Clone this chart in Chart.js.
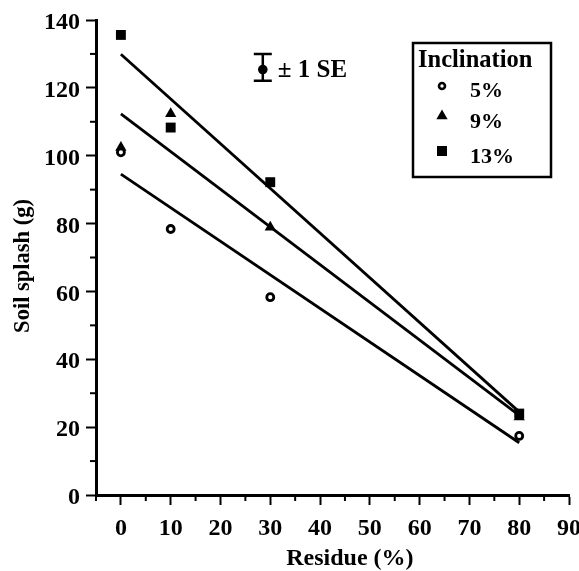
<!DOCTYPE html>
<html><head><meta charset="utf-8">
<script src="https://cdn.jsdelivr.net/npm/chart.js@4"></script>
<style>html,body{margin:0;padding:0;background:#fff}</style>
</head><body>
<canvas id="c" width="579" height="571"></canvas>
<script>
// ---- data ----
const seriesNames = ['5%', '9%', '13%'];
const legendTitle = 'Inclination';
const residue = [0, 10, 30, 80];
const splash5 = [101.0, 78.4, 58.3, 17.4];
const splash9 = [102.4, 112.4, 78.9, 23.0];
const splash13 = [135.6, 108.3, 92.2, 24.0];
const fitX = [0, 80];
const fit5 = [94.6, 15.4];
const fit9 = [112.3, 23.5];
const fit13 = [129.9, 24.5];
const seX = 28.5, seMean = 125.4, seLow = 122.1, seHigh = 130.0;
const seLabel = '± 1 SE';
const xTicks = [0, 10, 20, 30, 40, 50, 60, 70, 80, 90];
const yTicks = [0, 20, 40, 60, 80, 100, 120, 140];
const xMinor = [-5, 5, 15, 25, 35, 45, 55, 65, 75, 85];
const yMinor = [10, 30, 50, 70, 90, 110, 130];
const xTitle = 'Residue (%)';
const yTitle = 'Soil splash (g)';

const FONT = "'Liberation Serif', 'Times New Roman', serif";
const pts = (ys) => residue.map((x, i) => ({x, y: ys[i]}));
const fitPts = (ys) => fitX.map((x, i) => ({x, y: ys[i]}));

const lineDs = (ys) => ({type: 'line', data: fitPts(ys), borderColor: '#000', borderWidth: 2.8,
  pointRadius: 0, fill: false, showLine: true, order: 2});

const minorTicks = {
  id: 'minorTicks',
  afterDraw(chart) {
    const ctx = chart.ctx, xs = chart.scales.x, ys = chart.scales.y;
    ctx.save(); ctx.strokeStyle = '#000'; ctx.lineWidth = 2;
    const yb = ys.getPixelForValue(0), xl = xs.getPixelForValue(xs.min);
    xMinor.forEach(v => { const px = xs.getPixelForValue(v); ctx.beginPath(); ctx.moveTo(px, yb); ctx.lineTo(px, yb + 6); ctx.stroke(); });
    yMinor.forEach(v => { const py = ys.getPixelForValue(v); ctx.beginPath(); ctx.moveTo(xl, py); ctx.lineTo(xl - 6, py); ctx.stroke(); });
    ctx.restore();
  }
};

function drawMarker(ctx, style, x, y) {
  ctx.save(); ctx.fillStyle = '#000'; ctx.strokeStyle = '#000';
  if (style === 'circle') { ctx.lineWidth = 2.6; ctx.beginPath(); ctx.arc(x, y, 3, 0, Math.PI * 2); ctx.stroke(); }
  else if (style === 'triangle') { const r = 6.5; ctx.beginPath(); ctx.moveTo(x, y - r); ctx.lineTo(x + r * 0.866, y + r * 0.5); ctx.lineTo(x - r * 0.866, y + r * 0.5); ctx.closePath(); ctx.fill(); }
  else { const s = 5; ctx.fillRect(x - s, y - s, 2 * s, 2 * s); }
  ctx.restore();
}

const annot = {
  id: 'annot',
  afterDraw(chart) {
    const ctx = chart.ctx, xs = chart.scales.x, ys = chart.scales.y, ca = chart.chartArea;
    ctx.save();
    ctx.strokeStyle = '#000'; ctx.fillStyle = '#000';
    // axis titles
    ctx.textBaseline = 'alphabetic'; ctx.textAlign = 'center';
    ctx.font = 'bold 24px ' + FONT;
    ctx.fillText(xTitle, xs.getPixelForValue(46), 565);
    ctx.save();
    ctx.translate(29, ys.getPixelForValue(67.5)); ctx.rotate(-Math.PI / 2);
    ctx.font = 'bold 22.5px ' + FONT;
    ctx.fillText(yTitle, 0, 0);
    ctx.restore();
    // SE bar
    const px = xs.getPixelForValue(seX);
    const pl = ys.getPixelForValue(seLow), ph = ys.getPixelForValue(seHigh), pm = ys.getPixelForValue(seMean);
    ctx.lineWidth = 2.5;
    ctx.beginPath(); ctx.moveTo(px, ph); ctx.lineTo(px, pl);
    ctx.moveTo(px - 9, ph); ctx.lineTo(px + 9, ph);
    ctx.moveTo(px - 9, pl); ctx.lineTo(px + 9, pl); ctx.stroke();
    ctx.beginPath(); ctx.arc(px, pm, 4.8, 0, Math.PI * 2); ctx.fill();
    ctx.font = 'bold 25px ' + FONT; ctx.textAlign = 'left';
    ctx.fillText(seLabel, px + 15, pm + 7);
    // legend box
    const bx = ca.right - 156, by = ca.top + 23, bw = 138, bh = 134;
    ctx.lineWidth = 2.5; ctx.strokeRect(bx, by, bw, bh);
    ctx.font = 'bold 24.5px ' + FONT;
    ctx.fillText(legendTitle, bx + 5, by + 24);
    const styles = ['circle', 'triangle', 'rect'];
    const markerY = [43, 73, 108];
    const textY = [54, 85, 120];
    ctx.font = 'bold 22px ' + FONT;
    seriesNames.forEach((n, i) => {
      drawMarker(ctx, styles[i], bx + 29, by + markerY[i]);
      ctx.fillText(n, bx + 57, by + textY[i]);
    });
    ctx.restore();
  }
};

Chart.defaults.font.family = FONT;
Chart.defaults.font.weight = 'bold';
Chart.defaults.font.size = 24;
Chart.defaults.color = '#000';

new Chart(document.getElementById('c'), {
  type: 'scatter',
  data: {
    datasets: [
      lineDs(fit13), lineDs(fit9), lineDs(fit5),
      {label: seriesNames[0], data: pts(splash5), pointStyle: 'circle', pointRadius: 3.5, borderWidth: 2.8,
        borderColor: '#000', backgroundColor: '#fff', order: 1},
      {label: seriesNames[1], data: pts(splash9), pointStyle: 'triangle', pointRadius: 6.5, borderWidth: 0,
        borderColor: '#000', backgroundColor: '#000', order: 1},
      {label: seriesNames[2], data: pts(splash13), pointStyle: 'rect', pointRadius: 7, borderWidth: 0,
        borderColor: '#000', backgroundColor: '#000', order: 1}
    ]
  },
  options: {
    responsive: false, animation: false, devicePixelRatio: 1,
    layout: {padding: {left: 2, right: 10, top: 20, bottom: 0}},
    plugins: {legend: {display: false}, tooltip: {enabled: false}},
    scales: {
      x: {
        type: 'linear', min: -5, max: 90,
        afterBuildTicks: s => { s.ticks = xTicks.map(v => ({value: v})); },
        afterFit: s => { s.height = 76; s.paddingRight = 0; s.paddingLeft = 0; },
        ticks: {padding: 9, font: {size: 24, weight: 'bold'}},
        grid: {drawOnChartArea: false, drawTicks: true, tickLength: 10, tickWidth: 2, tickColor: '#000'},
        border: {display: true, color: '#000', width: 3},
        title: {display: false, text: xTitle}
      },
      y: {
        type: 'linear', min: 0, max: 140,
        afterBuildTicks: s => { s.ticks = yTicks.map(v => ({value: v})); },
        afterFit: s => { s.width = 94; s.paddingTop = 0; s.paddingBottom = 0; },
        ticks: {padding: 6, labelOffset: 3, font: {size: 24, weight: 'bold'}},
        grid: {drawOnChartArea: false, drawTicks: true, tickLength: 10, tickWidth: 2, tickColor: '#000'},
        border: {display: true, color: '#000', width: 3},
        title: {display: false, text: yTitle}
      }
    }
  },
  plugins: [minorTicks, annot]
});
</script>
</body></html>
